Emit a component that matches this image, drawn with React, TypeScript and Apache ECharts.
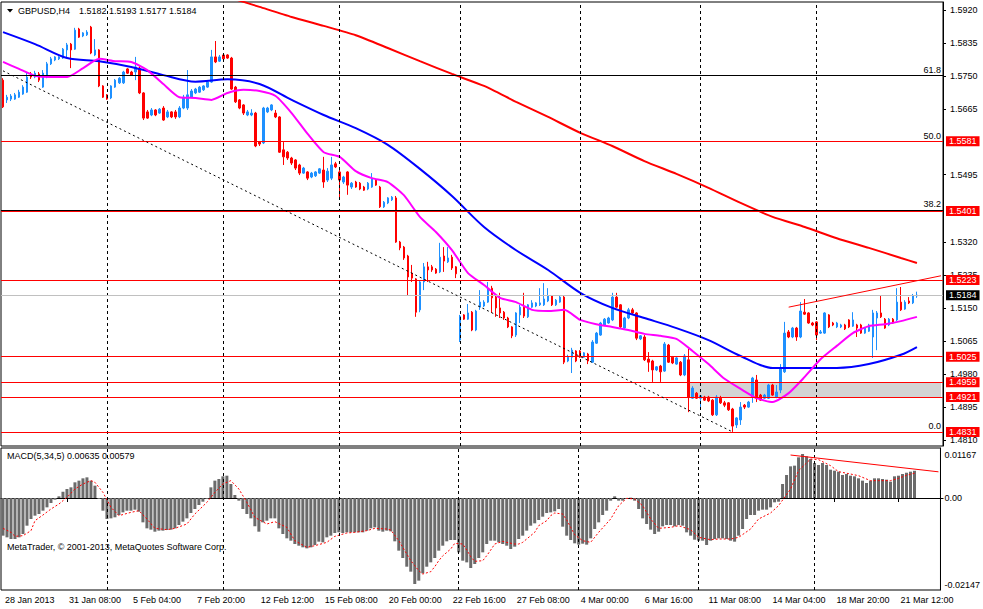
import React, { useEffect, useRef } from "react";
import * as echarts from "echarts";

const FONT = "'Liberation Sans', Arial, sans-serif";

// ---- axis / labels ----
const timeLabels = [
  "28 Jan 2013", "31 Jan 08:00", "5 Feb 04:00", "7 Feb 20:00", "12 Feb 12:00",
  "15 Feb 08:00", "20 Feb 00:00", "22 Feb 16:00", "27 Feb 08:00", "4 Mar 00:00",
  "6 Mar 16:00", "11 Mar 08:00", "14 Mar 04:00", "18 Mar 20:00", "21 Mar 12:00",
];
const LABEL_STEP = 16;
const SLOT_COUNT = 235;
const weekStarts = [26, 55, 84, 114, 144, 174, 203];
const priceTicks = [1.592, 1.5835, 1.575, 1.5665, 1.5495, 1.532, 1.5235, 1.515, 1.5065, 1.498, 1.4895, 1.481];
const macdTicks = [0.01167, 0, -0.02147];

// ---- candles (H4) ----
const opens = [
  1.5739, 1.5688, 1.5690, 1.5690, 1.5695, 1.5703, 1.5708, 1.5755, 1.5747, 1.5755,
  1.5721, 1.5747, 1.5781, 1.5791, 1.5794, 1.5796, 1.5817, 1.5832, 1.5819, 1.5871,
  1.5853, 1.5856, 1.5876, 1.5804, 1.5817, 1.5724, 1.5701, 1.5693, 1.5721, 1.5732,
  1.5732, 1.5768, 1.5760, 1.5760, 1.5770, 1.5706, 1.5657, 1.5649, 1.5662, 1.5654,
  1.5667, 1.5644, 1.5657, 1.5657, 1.5644, 1.5667, 1.5667, 1.5695, 1.5706, 1.5708,
  1.5714, 1.5721, 1.5734, 1.5799, 1.5788, 1.5804, 1.5804, 1.5796, 1.5721, 1.5688,
  1.5675, 1.5649, 1.5649, 1.5654, 1.5579, 1.5577, 1.5657, 1.5662, 1.5654, 1.5644,
  1.5559, 1.5553, 1.5538, 1.5533, 1.5520, 1.5499, 1.5502, 1.5489, 1.5492, 1.5499,
  1.5507, 1.5481, 1.5486, 1.5523, 1.5502, 1.5476, 1.5502, 1.5463, 1.5476, 1.5473,
  1.5463, 1.5458, 1.5463, 1.5481, 1.5463, 1.5412, 1.5422, 1.5430, 1.5435, 1.5321,
  1.5308, 1.5285, 1.5241, 1.5226, 1.5146, 1.5218, 1.5257, 1.5257, 1.5251, 1.5244,
  1.5285, 1.5270, 1.5282, 1.5257, 1.5068, 1.5133, 1.5122, 1.5140, 1.5094, 1.5153,
  1.5156, 1.5166, 1.5202, 1.5179, 1.5151, 1.5140, 1.5125, 1.5102, 1.5081, 1.5133,
  1.5153, 1.5128, 1.5153, 1.5156, 1.5159, 1.5159, 1.5169, 1.5182, 1.5159, 1.5166,
  1.5179, 1.5014, 1.5024, 1.5040, 1.5040, 1.5024, 1.5032, 1.5011, 1.5060, 1.5081,
  1.5107, 1.5112, 1.5120, 1.5179, 1.5159, 1.5099, 1.5125, 1.5146, 1.5138, 1.5071,
  1.5076, 1.5019, 1.5014, 1.4991, 1.5001, 1.4988, 1.5055, 1.5024, 1.5006, 1.5011,
  1.4978, 1.5017, 1.4918, 1.4931, 1.4918, 1.4921, 1.4921, 1.4913, 1.4875, 1.4918,
  1.4906, 1.4906, 1.4890, 1.4849, 1.4862, 1.4900, 1.4895, 1.4921, 1.4965, 1.4926,
  1.4918, 1.4918, 1.4952, 1.4921, 1.4939, 1.4986, 1.5089, 1.5076, 1.5099, 1.5076,
  1.5140, 1.5138, 1.5112, 1.5115, 1.5086, 1.5086, 1.5133, 1.5112, 1.5102, 1.5102,
  1.5107, 1.5120, 1.5104, 1.5107, 1.5107, 1.5086, 1.5091, 1.5076, 1.5125, 1.5138,
  1.5122, 1.5107, 1.5122, 1.5120, 1.5166, 1.5148, 1.5169, 1.5164, 1.5182,
];
const highs = [
  1.5744, 1.5701, 1.5703, 1.5706, 1.5714, 1.5726, 1.5760, 1.5760, 1.5763, 1.5760,
  1.5765, 1.5786, 1.5799, 1.5801, 1.5801, 1.5822, 1.5835, 1.5835, 1.5874, 1.5874,
  1.5863, 1.5868, 1.5879, 1.5845, 1.5819, 1.5726, 1.5703, 1.5726, 1.5742, 1.5747,
  1.5763, 1.5770, 1.5763, 1.5799, 1.5775, 1.5708, 1.5662, 1.5667, 1.5664, 1.5667,
  1.5672, 1.5662, 1.5659, 1.5662, 1.5672, 1.5701, 1.5765, 1.5716, 1.5719, 1.5724,
  1.5726, 1.5739, 1.5817, 1.5840, 1.5804, 1.5806, 1.5806, 1.5799, 1.5724, 1.5690,
  1.5677, 1.5662, 1.5664, 1.5657, 1.5582, 1.5670, 1.5670, 1.5677, 1.5662, 1.5646,
  1.5579, 1.5556, 1.5541, 1.5535, 1.5523, 1.5515, 1.5504, 1.5502, 1.5504, 1.5512,
  1.5541, 1.5512, 1.5541, 1.5528, 1.5507, 1.5492, 1.5504, 1.5476, 1.5479, 1.5476,
  1.5466, 1.5476, 1.5499, 1.5484, 1.5466, 1.5427, 1.5437, 1.5440, 1.5440, 1.5324,
  1.5311, 1.5288, 1.5262, 1.5228, 1.5223, 1.5267, 1.5270, 1.5262, 1.5254, 1.5319,
  1.5308, 1.5308, 1.5288, 1.5259, 1.5133, 1.5135, 1.5161, 1.5143, 1.5146, 1.5197,
  1.5171, 1.5218, 1.5208, 1.5184, 1.5190, 1.5143, 1.5128, 1.5104, 1.5140, 1.5159,
  1.5190, 1.5161, 1.5171, 1.5166, 1.5202, 1.5215, 1.5202, 1.5184, 1.5174, 1.5184,
  1.5184, 1.5030, 1.5048, 1.5042, 1.5042, 1.5037, 1.5035, 1.5068, 1.5089, 1.5115,
  1.5125, 1.5128, 1.5190, 1.5190, 1.5161, 1.5128, 1.5151, 1.5151, 1.5140, 1.5081,
  1.5081, 1.5037, 1.5017, 1.5001, 1.5004, 1.5063, 1.5058, 1.5027, 1.5024, 1.5014,
  1.5032, 1.5045, 1.4949, 1.4934, 1.4926, 1.4924, 1.4924, 1.4916, 1.4926, 1.4924,
  1.4911, 1.4908, 1.4893, 1.4869, 1.4908, 1.4903, 1.4911, 1.4973, 1.4978, 1.4929,
  1.4929, 1.4955, 1.4955, 1.4952, 1.5006, 1.5115, 1.5094, 1.5102, 1.5102, 1.5166,
  1.5174, 1.5140, 1.5115, 1.5117, 1.5094, 1.5140, 1.5135, 1.5115, 1.5115, 1.5110,
  1.5110, 1.5122, 1.5140, 1.5110, 1.5110, 1.5102, 1.5110, 1.5146, 1.5143, 1.5184,
  1.5125, 1.5125, 1.5125, 1.5202, 1.5205, 1.5171, 1.5179, 1.5187, 1.5193,
];
const lows = [
  1.5667, 1.5680, 1.5685, 1.5688, 1.5693, 1.5701, 1.5706, 1.5742, 1.5744, 1.5734,
  1.5719, 1.5744, 1.5778, 1.5788, 1.5791, 1.5794, 1.5796, 1.5770, 1.5817, 1.5848,
  1.5850, 1.5853, 1.5806, 1.5801, 1.5721, 1.5693, 1.5688, 1.5690, 1.5719, 1.5729,
  1.5729, 1.5755, 1.5750, 1.5739, 1.5703, 1.5636, 1.5639, 1.5646, 1.5646, 1.5652,
  1.5634, 1.5641, 1.5641, 1.5639, 1.5641, 1.5664, 1.5662, 1.5693, 1.5703, 1.5706,
  1.5711, 1.5719, 1.5732, 1.5783, 1.5786, 1.5791, 1.5794, 1.5714, 1.5680, 1.5664,
  1.5649, 1.5646, 1.5646, 1.5566, 1.5569, 1.5574, 1.5654, 1.5659, 1.5641, 1.5551,
  1.5520, 1.5533, 1.5520, 1.5507, 1.5494, 1.5497, 1.5481, 1.5486, 1.5489, 1.5497,
  1.5461, 1.5476, 1.5481, 1.5512, 1.5435, 1.5471, 1.5443, 1.5458, 1.5461, 1.5455,
  1.5453, 1.5455, 1.5461, 1.5466, 1.5409, 1.5409, 1.5419, 1.5427, 1.5319, 1.5300,
  1.5275, 1.5184, 1.5218, 1.5128, 1.5140, 1.5197, 1.5218, 1.5244, 1.5239, 1.5241,
  1.5244, 1.5267, 1.5249, 1.5228, 1.5063, 1.5120, 1.5120, 1.5091, 1.5091, 1.5146,
  1.5153, 1.5164, 1.5138, 1.5128, 1.5125, 1.5120, 1.5099, 1.5073, 1.5076, 1.5112,
  1.5125, 1.5125, 1.5151, 1.5153, 1.5156, 1.5156, 1.5166, 1.5156, 1.5156, 1.5164,
  1.5006, 1.5011, 1.4983, 1.5011, 1.5022, 1.5022, 1.5006, 1.5009, 1.5058, 1.5079,
  1.5104, 1.5110, 1.5117, 1.5151, 1.5099, 1.5097, 1.5122, 1.5135, 1.5068, 1.5068,
  1.5014, 1.4986, 1.4960, 1.4988, 1.4960, 1.4986, 1.5009, 1.5006, 1.5004, 1.4975,
  1.4975, 1.4882, 1.4916, 1.4916, 1.4895, 1.4911, 1.4908, 1.4872, 1.4872, 1.4903,
  1.4895, 1.4885, 1.4831, 1.4841, 1.4849, 1.4890, 1.4893, 1.4906, 1.4908, 1.4911,
  1.4916, 1.4916, 1.4924, 1.4918, 1.4931, 1.4983, 1.5073, 1.5073, 1.5066, 1.5073,
  1.5133, 1.5110, 1.5104, 1.5068, 1.5084, 1.5084, 1.5099, 1.5104, 1.5099, 1.5099,
  1.5094, 1.5099, 1.5102, 1.5076, 1.5084, 1.5084, 1.5089, 1.5022, 1.5042, 1.5125,
  1.5097, 1.5104, 1.5110, 1.5117, 1.5143, 1.5146, 1.5161, 1.5161, 1.5177,
];
const closes = [
  1.5670, 1.5695, 1.5698, 1.5701, 1.5708, 1.5721, 1.5747, 1.5747, 1.5757, 1.5739,
  1.5757, 1.5781, 1.5794, 1.5799, 1.5799, 1.5819, 1.5830, 1.5817, 1.5868, 1.5850,
  1.5861, 1.5863, 1.5809, 1.5817, 1.5724, 1.5695, 1.5690, 1.5724, 1.5739, 1.5744,
  1.5760, 1.5757, 1.5752, 1.5773, 1.5706, 1.5641, 1.5641, 1.5662, 1.5649, 1.5664,
  1.5636, 1.5657, 1.5644, 1.5644, 1.5667, 1.5695, 1.5701, 1.5711, 1.5716, 1.5721,
  1.5724, 1.5734, 1.5799, 1.5786, 1.5799, 1.5794, 1.5796, 1.5716, 1.5683, 1.5667,
  1.5654, 1.5657, 1.5654, 1.5569, 1.5574, 1.5667, 1.5667, 1.5675, 1.5644, 1.5553,
  1.5541, 1.5538, 1.5525, 1.5512, 1.5499, 1.5512, 1.5486, 1.5499, 1.5502, 1.5510,
  1.5476, 1.5504, 1.5520, 1.5515, 1.5481, 1.5489, 1.5468, 1.5473, 1.5463, 1.5458,
  1.5455, 1.5473, 1.5486, 1.5468, 1.5412, 1.5424, 1.5435, 1.5437, 1.5321, 1.5306,
  1.5280, 1.5231, 1.5228, 1.5140, 1.5218, 1.5257, 1.5249, 1.5249, 1.5241, 1.5282,
  1.5272, 1.5280, 1.5254, 1.5239, 1.5130, 1.5122, 1.5138, 1.5094, 1.5143, 1.5166,
  1.5166, 1.5197, 1.5177, 1.5151, 1.5138, 1.5125, 1.5102, 1.5079, 1.5138, 1.5153,
  1.5130, 1.5159, 1.5164, 1.5164, 1.5164, 1.5174, 1.5182, 1.5159, 1.5171, 1.5179,
  1.5011, 1.5024, 1.5042, 1.5014, 1.5024, 1.5035, 1.5014, 1.5063, 1.5086, 1.5112,
  1.5122, 1.5125, 1.5179, 1.5153, 1.5102, 1.5125, 1.5146, 1.5138, 1.5073, 1.5079,
  1.5017, 1.5011, 1.4991, 1.4999, 1.4986, 1.5058, 1.5011, 1.5009, 1.5022, 1.4978,
  1.5027, 1.4921, 1.4944, 1.4918, 1.4924, 1.4913, 1.4911, 1.4875, 1.4921, 1.4906,
  1.4900, 1.4888, 1.4846, 1.4867, 1.4895, 1.4895, 1.4908, 1.4970, 1.4918, 1.4913,
  1.4926, 1.4952, 1.4926, 1.4934, 1.4996, 1.5086, 1.5076, 1.5099, 1.5076, 1.5143,
  1.5135, 1.5112, 1.5107, 1.5081, 1.5089, 1.5138, 1.5102, 1.5107, 1.5112, 1.5107,
  1.5097, 1.5102, 1.5120, 1.5099, 1.5086, 1.5099, 1.5107, 1.5138, 1.5138, 1.5128,
  1.5099, 1.5122, 1.5112, 1.5166, 1.5146, 1.5166, 1.5164, 1.5182, 1.5184,
];

// ---- moving averages ----
const blueIdx = [0, 8, 16, 24, 32, 40, 48, 56, 64, 72, 80, 88, 96, 104, 112, 120, 128, 136, 144, 152, 160, 168, 176, 184, 192, 200, 208, 216, 224, 228];
const blueMA = [1.5863, 1.5832, 1.5796, 1.5788, 1.5773, 1.5752, 1.5735, 1.5741, 1.5729, 1.5688, 1.5649, 1.5615, 1.5572, 1.5510, 1.5440, 1.5360, 1.5300, 1.5249, 1.5190, 1.5151, 1.5125, 1.5099, 1.5068, 1.5027, 1.4996, 1.4996, 1.4996, 1.5006, 1.5030, 1.5050];
const magentaIdx = [0, 4, 8, 12, 16, 20, 24, 28, 32, 36, 40, 44, 48, 52, 56, 60, 64, 68, 72, 76, 80, 84, 88, 92, 96, 100, 104, 108, 112, 116, 120, 124, 128, 132, 136, 140, 144, 148, 152, 156, 160, 164, 168, 172, 176, 180, 184, 188, 192, 196, 200, 204, 208, 212, 216, 220, 224, 228];
const magentaMA = [
  1.5786, 1.5768, 1.5750, 1.5747, 1.5747, 1.5770, 1.5794, 1.5788, 1.5786, 1.5765,
  1.5729, 1.5695, 1.5693, 1.5688, 1.5706, 1.5714, 1.5711, 1.5698, 1.5654, 1.5600,
  1.5553, 1.5541, 1.5504, 1.5486, 1.5476, 1.5442, 1.5386, 1.5347, 1.5300, 1.5241,
  1.5210, 1.5177, 1.5166, 1.5146, 1.5143, 1.5146, 1.5120, 1.5109, 1.5102, 1.5094,
  1.5084, 1.5079, 1.5071, 1.5040, 1.5006, 1.4968, 1.4942, 1.4918, 1.4908, 1.4931,
  1.4973, 1.5019, 1.5053, 1.5086, 1.5104, 1.5109, 1.5117, 1.5128,
];
const redIdx = [56, 60, 64, 72, 80, 88, 96, 104, 112, 120, 128, 136, 144, 152, 160, 168, 176, 184, 192, 200, 208, 216, 224, 228];
const redMA = [1.5954, 1.5941, 1.5928, 1.5902, 1.5879, 1.5855, 1.5822, 1.5788, 1.5755, 1.5724, 1.5683, 1.5644, 1.5603, 1.5569, 1.5530, 1.5497, 1.5461, 1.5422, 1.5386, 1.5360, 1.5331, 1.5306, 1.5280, 1.5267];

// ---- MACD(5,34,5) ----
const macdHist = [
  -0.00879, -0.00918, -0.00957, -0.00957, -0.00918, -0.0084, -0.00646, -0.0049, -0.00412, -0.00373,
  -0.00296, -0.00218, -0.00117, -0.00039, 0.00039, 0.00148, 0.0021, 0.00249, 0.00366, 0.00405,
  0.00459, 0.00482, 0.00405, 0.00288, -0.00023, -0.00296, -0.0049, -0.00475, -0.00451, -0.00397,
  -0.00335, -0.00296, -0.00296, -0.00272, -0.00319, -0.00568, -0.00708, -0.00739, -0.00786, -0.00762,
  -0.00762, -0.00747, -0.00739, -0.00708, -0.0063, -0.00552, -0.00475, -0.0035, -0.00257, -0.00163,
  -0.00086, -0.00023, 0.00249, 0.00405, 0.00443, 0.00506, 0.00521, 0.00327, 0.0007, -0.00062,
  -0.00257, -0.00373, -0.00475, -0.00661, -0.00786, -0.00568, -0.00529, -0.00475, -0.00475, -0.00708,
  -0.0084, -0.00941, -0.00996, -0.01074, -0.01113, -0.01151, -0.01175, -0.01151, -0.01097, -0.01019,
  -0.01035, -0.00918, -0.00879, -0.00817, -0.00801, -0.00817, -0.00801, -0.00801, -0.00801, -0.00801,
  -0.00801, -0.00762, -0.00708, -0.00685, -0.00762, -0.00786, -0.00762, -0.00778, -0.01011, -0.01229,
  -0.014, -0.01603, -0.01719, -0.02007, -0.01929, -0.01758, -0.01603, -0.01502, -0.014, -0.01229,
  -0.01113, -0.01011, -0.0098, -0.0098, -0.01268, -0.01463, -0.01502, -0.01634, -0.0154, -0.014,
  -0.01268, -0.01074, -0.00996, -0.00996, -0.01035, -0.01074, -0.01113, -0.0119, -0.01136, -0.00957,
  -0.00879, -0.00762, -0.00646, -0.00591, -0.00513, -0.00436, -0.0035, -0.00335, -0.00311, -0.00257,
  -0.00669, -0.00879, -0.0098, -0.01058, -0.01089, -0.01066, -0.01089, -0.00941, -0.00724, -0.00568,
  -0.00397, -0.00296, -0.00062, 0.00039, -0.00062, -0.00062, -0.00023, 0.00008, -0.00062, -0.00257,
  -0.00475, -0.00607, -0.00739, -0.0084, -0.00786, -0.00661, -0.0063, -0.0063, -0.00661, -0.0063,
  -0.00646, -0.00801, -0.00879, -0.00973, -0.00996, -0.00996, -0.01097, -0.00996, -0.00957, -0.00941,
  -0.00941, -0.00957, -0.00996, -0.01019, -0.00879, -0.00724, -0.0049, -0.00397, -0.00397, -0.00296,
  -0.00272, -0.00272, -0.00218, -0.00101, -0.00086, 0.00327, 0.00537, 0.00739, 0.00755, 0.00949,
  0.01027, 0.00973, 0.0091, 0.00817, 0.0077, 0.00817, 0.0077, 0.00661, 0.00638, 0.00615,
  0.00537, 0.0056, 0.00521, 0.00506, 0.00459, 0.00405, 0.0035, 0.00405, 0.00459, 0.00459,
  0.00443, 0.00428, 0.00381, 0.00506, 0.00521, 0.0056, 0.0059, 0.00615, 0.00635,
];
const signalIdx = [
  0, 2, 3, 5, 7, 8, 10, 12, 14, 16, 18, 20, 22, 23, 25, 27, 29, 32, 34, 36, 38, 41, 43, 46, 48, 51, 53, 55, 57, 59,
  61, 63, 66, 68, 71, 73, 76, 78, 81, 83, 86, 88, 91, 93, 96, 97, 99, 101, 102, 103, 104, 105, 107, 108, 109, 110, 112, 113, 115, 116,
  117, 118, 120, 121, 122, 123, 125, 126, 128, 129, 130, 131, 133, 134, 136, 137, 138, 140, 141, 142, 143, 145, 147, 149, 152, 154, 156, 158, 160, 162,
  164, 167, 169, 172, 174, 177, 179, 182, 184, 187, 189, 192, 194, 197, 199, 202, 204, 207, 209, 212, 214, 217, 219, 222, 224, 226, 228,
];
const signalVals = [
  -0.00708, -0.00801, -0.00895, -0.00879, -0.00762, -0.00529, -0.00397, -0.00257, -0.0014, 0.00016, 0.0021, 0.00327, 0.00405, 0.00366, 0.00132, -0.00218, -0.00412, -0.00335, -0.00296, -0.0049, -0.00708, -0.00739, -0.00708, -0.00607, -0.00373, -0.00101, 0.00132, 0.00327, 0.00405, 0.0021,
  -0.00101, -0.00451, -0.00607, -0.00552, -0.00685, -0.00996, -0.01151, -0.01113, -0.01035, -0.00895, -0.00817, -0.00801, -0.00762, -0.00708, -0.00724, -0.00747, -0.00996, -0.01307, -0.01463, -0.01579, -0.01696, -0.01774, -0.01719, -0.01603, -0.01463, -0.0135, -0.0119, -0.01058, -0.01074, -0.01214,
  -0.01369, -0.01478, -0.01463, -0.01346, -0.01214, -0.01074, -0.01011, -0.01035, -0.01074, -0.01074, -0.01035, -0.00957, -0.00801, -0.00646, -0.00529, -0.00412, -0.0035, -0.00373, -0.00513, -0.00685, -0.00856, -0.00996, -0.01035, -0.00801, -0.0049, -0.00179, -0.00008, -0.00023, -0.00179, -0.0049,
  -0.00708, -0.00685, -0.00646, -0.00739, -0.00918, -0.00973, -0.00957, -0.00957, -0.00918, -0.00724, -0.0049, -0.0035, -0.00179, 0.0021, 0.00638, 0.0091, 0.00895, 0.00755, 0.00615, 0.0056, 0.00521, 0.00405, 0.00405, 0.00405, 0.00459, 0.0053, 0.00579,
];

// ---- drawn objects ----
const fibNames = ["61.8", "50.0", "38.2", "0.0"];
const fibPrices = [1.5752, 1.5581, 1.5404, 1.4831];
const redLevels = [1.5581, 1.5401, 1.5223, 1.5025, 1.4959, 1.4921, 1.4831];
const zoneStartIdx = 171;
const zoneTop = 1.4959;
const zoneBottom = 1.4921;
const trendDashed = [[0, 1.5763], [182, 1.4831]];
const trendUpper = [[196, 1.5153], [234, 1.5234]];
const trendMacd = [[197, 0.01003], [234, 0.00611]];

const LAST = closes.length - 1;
const f4 = (v: number) => v.toFixed(4);
const f5 = (v: number) => v.toFixed(5);

function buildOption() {
  const cats = Array.from({ length: SLOT_COUNT }, (_, i) => String(i));
  const candleData = opens.map((o, i) => [o, closes[i], lows[i], highs[i]]);
  const pairs = (idx: number[], vals: number[]) => idx.map((x, k) => [x, vals[k]]);
  const txt = { fontSize: 9, fontFamily: FONT, color: "#000" };

  const weekLineStyle = { color: "#000", width: 1, type: [3, 3] as any };

  const levelLines: any[] = [];
  weekStarts.forEach((w) => levelLines.push({ xAxis: w, lineStyle: weekLineStyle, label: { show: false } }));
  fibPrices.forEach((p, k) =>
    levelLines.push({
      yAxis: p,
      lineStyle: { color: "#000", width: 1, type: "solid" },
      label: { show: true, position: "insideEndTop", formatter: fibNames[k], distance: [2, 1], ...txt },
    })
  );
  redLevels.forEach((p) =>
    levelLines.push({
      yAxis: p,
      lineStyle: { color: "#FF0000", width: 1, type: "solid" },
      label: {
        show: true, position: "end", formatter: f4(p), distance: 3,
        backgroundColor: "#FF0000", color: "#FFFFFF", padding: [1, 3, 0, 3],
        fontSize: 9, fontFamily: FONT,
      },
    })
  );
  levelLines.push({
    yAxis: closes[LAST],
    lineStyle: { color: "#C0C0C0", width: 1, type: "solid" },
    label: {
      show: true, position: "end", formatter: f4(closes[LAST]), distance: 3,
      backgroundColor: "#000000", color: "#FFFFFF", padding: [1, 3, 0, 3],
      fontSize: 9, fontFamily: FONT,
    },
  });
  const dashStyle = { color: "#000", width: 1, type: [2, 3] as any };
  levelLines.push([
    { coord: trendDashed[0], lineStyle: dashStyle, label: { show: false } },
    { coord: trendDashed[1], lineStyle: dashStyle, label: { show: false } },
  ]);
  const upStyle = { color: "#FF0000", width: 1, type: "solid" };
  levelLines.push([
    { coord: trendUpper[0], lineStyle: upStyle, label: { show: false } },
    { coord: trendUpper[1], lineStyle: upStyle, label: { show: false } },
  ]);

  const macdLines: any[] = [];
  weekStarts.forEach((w) => macdLines.push({ xAxis: w, lineStyle: weekLineStyle, label: { show: false } }));
  macdLines.push([
    { coord: trendMacd[0], lineStyle: upStyle, label: { show: false } },
    { coord: trendMacd[1], lineStyle: upStyle, label: { show: false } },
  ]);

  return {
    animation: false,
    backgroundColor: "#FFFFFF",
    grid: [
      { left: 1, top: 2, width: 942, height: 444, show: true, borderColor: "#000", borderWidth: 1, backgroundColor: "#FFFFFF" },
      { left: 1, top: 448, width: 942, height: 142, show: true, borderColor: "#000", borderWidth: 1, backgroundColor: "#FFFFFF" },
    ],
    xAxis: [
      {
        type: "category", gridIndex: 0, data: cats, boundaryGap: true,
        axisLine: { show: false }, axisTick: { show: false }, axisLabel: { show: false }, splitLine: { show: false },
      },
      {
        type: "category", gridIndex: 1, data: cats, boundaryGap: true,
        axisLine: { show: true, lineStyle: { color: "#000", width: 1 } },
        axisTick: {
          show: true, alignWithLabel: true, length: 4, lineStyle: { color: "#000" },
          interval: (i: number) => i % LABEL_STEP === 0 && i / LABEL_STEP < timeLabels.length,
        },
        axisLabel: {
          show: true, align: "left", margin: 5, padding: [0, 0, 0, 2], ...txt,
          interval: (i: number) => i % LABEL_STEP === 0 && i / LABEL_STEP < timeLabels.length,
          formatter: (_v: string, i: number) => timeLabels[i / LABEL_STEP] ?? "",
        },
        splitLine: { show: false },
      },
    ],
    yAxis: [
      {
        type: "value", gridIndex: 0, position: "right", min: 1.47946, max: 1.59407,
        splitLine: { show: false },
        axisLine: { show: true, lineStyle: { color: "#000" } },
        axisTick: { show: true, length: 3, customValues: priceTicks, lineStyle: { color: "#000" } },
        axisLabel: { customValues: priceTicks, formatter: (v: number) => f4(v), margin: 7, showMinLabel: true, showMaxLabel: true, ...txt },
      },
      {
        type: "value", gridIndex: 1, position: "right", min: macdTicks[2], max: macdTicks[0],
        splitLine: { show: false },
        axisLine: { show: true, lineStyle: { color: "#000" } },
        axisTick: { show: true, length: 3, customValues: [0], lineStyle: { color: "#000" } },
        axisLabel: {
          customValues: macdTicks, margin: 4, showMinLabel: true, showMaxLabel: true, ...txt,
          formatter: (v: number) =>
            Math.abs(v) < 1e-9 ? "{m|0.00}" : v > 0 ? `{t|${f5(v)}}` : `{b|${f5(v)}}`,
          rich: {
            t: { ...txt, padding: [14, 0, 0, 0] },
            m: { ...txt },
            b: { ...txt, padding: [0, 0, 10, 0] },
          },
        },
      },
    ],
    series: [
      {
        name: "levels", type: "line", xAxisIndex: 0, yAxisIndex: 0, data: [], z: 1, silent: true,
        markArea: {
          silent: true,
          itemStyle: { color: "#D3D3D3" },
          data: [[{ xAxis: zoneStartIdx, yAxis: zoneTop }, { xAxis: SLOT_COUNT - 1, yAxis: zoneBottom }]],
        },
        markLine: { silent: true, precision: 5, symbol: ["none", "none"], label: { show: false }, data: levelLines },
      },
      {
        name: "GBPUSD", type: "candlestick", xAxisIndex: 0, yAxisIndex: 0, z: 3, barWidth: 2,
        data: candleData,
        itemStyle: { color: "#1E90FF", color0: "#FF0000", borderColor: "#1E90FF", borderColor0: "#FF0000", borderWidth: 1 },
      },
      {
        name: "MA long", type: "line", xAxisIndex: 0, yAxisIndex: 0, z: 4, showSymbol: false, symbol: "none",
        data: pairs(redIdx, redMA), lineStyle: { color: "#FF0000", width: 2 }, smooth: 0.2,
      },
      {
        name: "MA mid", type: "line", xAxisIndex: 0, yAxisIndex: 0, z: 4, showSymbol: false, symbol: "none",
        data: pairs(blueIdx, blueMA), lineStyle: { color: "#0000FF", width: 2 }, smooth: 0.3,
      },
      {
        name: "MA fast", type: "line", xAxisIndex: 0, yAxisIndex: 0, z: 4, showSymbol: false, symbol: "none",
        data: pairs(magentaIdx, magentaMA), lineStyle: { color: "#FF00FF", width: 2 }, smooth: 0.2,
      },
      {
        name: "macd-objects", type: "line", xAxisIndex: 1, yAxisIndex: 1, data: [], z: 1, silent: true,
        markLine: { silent: true, precision: 6, symbol: ["none", "none"], label: { show: false }, data: macdLines },
      },
      {
        name: "MACD", type: "bar", xAxisIndex: 1, yAxisIndex: 1, z: 2, barWidth: 3,
        data: macdHist, itemStyle: { color: "#6B6B6B" },
      },
      {
        name: "Signal", type: "line", xAxisIndex: 1, yAxisIndex: 1, z: 3, showSymbol: false, symbol: "none",
        data: pairs(signalIdx, signalVals), lineStyle: { color: "#FF0000", width: 1, type: [2, 2] },
      },
    ],
    graphic: [
      { type: "polygon", z: 100, shape: { points: [[7, 9], [13, 9], [10, 12.5]] }, style: { fill: "#000" } },
      { type: "text", z: 100, x: 18, y: 11, style: { text: "GBPUSD,H4", fontSize: 9, fontFamily: FONT, fill: "#000", verticalAlign: "middle" } },
      {
        type: "text", z: 100, x: 79, y: 11,
        style: { text: `${f4(opens[LAST])} ${f4(highs[LAST])} ${f4(lows[LAST])} ${f4(closes[LAST])}`, fontSize: 9, fontFamily: FONT, fill: "#000", verticalAlign: "middle" },
      },
      {
        type: "text", z: 100, x: 7, y: 456,
        style: { text: `MACD(5,34,5) ${f5(macdHist[LAST])} ${f5(signalVals[signalVals.length - 1])}`, fontSize: 9, fontFamily: FONT, fill: "#000", verticalAlign: "middle" },
      },
      {
        type: "text", z: 100, x: 7, y: 547,
        style: { text: "MetaTrader, © 2001-2013, MetaQuotes Software Corp.", fontSize: 9, fontFamily: FONT, fill: "#000", verticalAlign: "middle" },
      },
    ],
  };
}

export default function App() {
  const ref = useRef<HTMLDivElement>(null);
  useEffect(() => {
    if (!ref.current) return;
    const chart = echarts.init(ref.current, undefined, { renderer: "svg" });
    chart.setOption(buildOption() as any);
    return () => chart.dispose();
  }, []);
  return (
    <div
      ref={ref}
      style={{ position: "fixed", left: 0, top: 0, width: 983, height: 609, background: "#FFFFFF" }}
    />
  );
}
